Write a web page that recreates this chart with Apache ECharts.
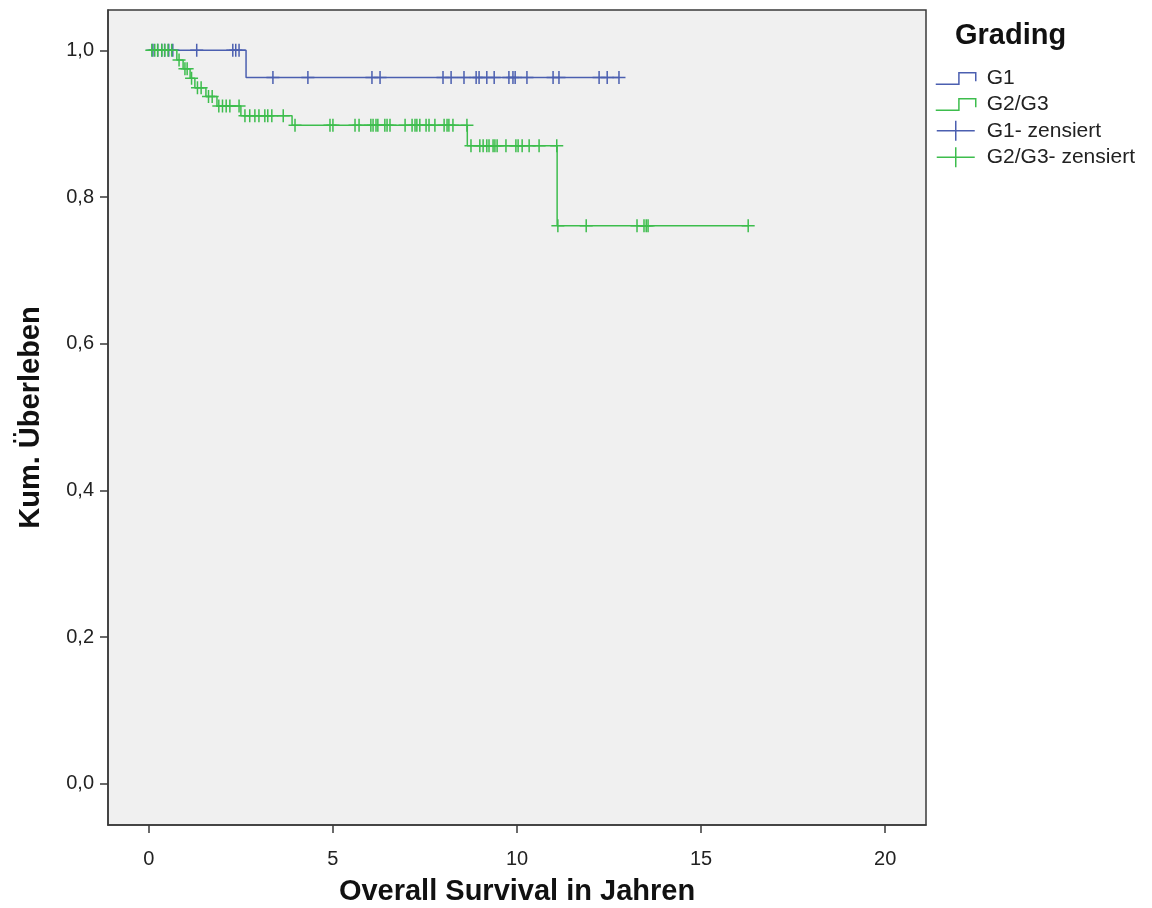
<!DOCTYPE html>
<html>
<head>
<meta charset="utf-8">
<title>Kaplan-Meier: Overall Survival nach Grading</title>
<script src="https://cdn.jsdelivr.net/npm/echarts@6/dist/echarts.min.js"></script>
<style>
  html, body { margin: 0; padding: 0; background: #ffffff; }
  #chart { width: 1152px; height: 908px; }
</style>
</head>
<body>
<div id="chart"></div>
<script>
// Kaplan-Meier step curves: time (years) at which each level starts, and the level
const g1Time = [0, 2.64, 12.77];
const g1Surv = [1.0, 0.963, 0.963];

const g23Time = [0, 0.76, 0.93, 1.12, 1.25, 1.55, 1.85, 2.50, 3.89, 8.65, 11.09, 16.28];
const g23Surv = [1.0, 0.987, 0.975, 0.962, 0.949, 0.937, 0.924, 0.911, 0.898, 0.870, 0.761, 0.761];

// Censoring times (years)
const g1Censored = [0.11, 0.24, 0.35, 0.43, 0.54, 0.65, 1.30, 2.28, 2.36, 2.45,
  3.37, 4.32, 6.06, 6.28, 7.99, 8.21, 8.56, 8.89, 8.97, 9.18, 9.38, 9.78, 9.89,
  9.95, 10.27, 10.98, 11.14, 12.23, 12.45, 12.77];

const g23Censored = [0.08, 0.16, 0.24, 0.35, 0.43, 0.52, 0.62,
  0.82, 0.98, 1.04, 1.16, 1.32, 1.42, 1.62, 1.72,
  1.90, 2.00, 2.10, 2.20, 2.45,
  2.61, 2.74, 2.88, 2.99, 3.15, 3.23, 3.34, 3.65,
  3.97, 4.92, 5.00, 5.60, 5.71, 6.03, 6.09, 6.17, 6.22, 6.41, 6.47, 6.55, 6.96,
  7.15, 7.23, 7.28, 7.36, 7.53, 7.61, 7.77, 8.02, 8.10, 8.15, 8.26, 8.64,
  8.75, 8.99, 9.08, 9.18, 9.24, 9.35, 9.40, 9.46, 9.70, 9.97, 10.03, 10.14,
  10.33, 10.60, 11.08,
  11.11, 11.88, 13.26, 13.45, 13.51, 13.56, 16.28];

// Axis ticks
const xTicks = [0, 5, 10, 15, 20];
const yTicks = [0, 0.2, 0.4, 0.6, 0.8, 1.0];

const groupNames = ['G1', 'G2/G3', 'G1- zensiert', 'G2/G3- zensiert'];
const BLUE = '#4b5fb0';
const GREEN = '#3dbd4d';
const FONT = '"Liberation Sans", Arial, sans-serif';

// survival level in effect at time t (right-continuous step function)
function levelAt(times, surv, t) {
  let s = surv[0];
  for (let i = 0; i < times.length; i++) {
    if (times[i] <= t) s = surv[i];
  }
  return s;
}

const stepData = (times, surv) => times.map((t, i) => [t, surv[i]]);
const censorData = (cens, times, surv) => cens.map(t => [t, levelAt(times, surv, t)]);

const crossSymbol = 'path://M0,6L12,6M6,0L6,12';
const stepIcon = 'path://M0,11L22,11L22,0L38,0L38,8';
const crossIcon = 'path://M0,10L38,10M19,0L19,20';

const chart = echarts.init(document.getElementById('chart'), null, { renderer: 'canvas' });

chart.setOption({
  animation: false,
  backgroundColor: '#ffffff',
  title: {
    text: 'Grading',
    left: 950,
    top: 16,
    textStyle: { fontFamily: FONT, fontSize: 29, fontWeight: 'bold', color: '#111' }
  },
  legend: {
    orient: 'vertical',
    left: 930,
    top: 63,
    itemWidth: 40,
    itemHeight: 20,
    itemGap: 5,
    textStyle: { fontFamily: FONT, fontSize: 21, lineHeight: 20, color: '#222', padding: [0, 0, 0, 6] },
    data: [
      { name: groupNames[0], icon: stepIcon,
        itemStyle: { color: 'transparent', borderColor: BLUE, borderWidth: 1.5 } },
      { name: groupNames[1], icon: stepIcon,
        itemStyle: { color: 'transparent', borderColor: GREEN, borderWidth: 1.5 } },
      { name: groupNames[2], icon: crossIcon,
        itemStyle: { color: 'transparent', borderColor: BLUE, borderWidth: 1.5 } },
      { name: groupNames[3], icon: crossIcon,
        itemStyle: { color: 'transparent', borderColor: GREEN, borderWidth: 1.5 } }
    ]
  },
  grid: {
    left: 108, right: 226, top: 10, bottom: 83,
    outerBoundsMode: 'none',
    show: true,
    backgroundColor: '#f0f0f0',
    borderColor: '#3a3a3a',
    borderWidth: 1.5
  },
  xAxis: {
    type: 'value',
    min: -1.11,
    max: 21.11,
    name: 'Overall Survival in Jahren',
    nameLocation: 'middle',
    nameGap: 52,
    nameTextStyle: { fontFamily: FONT, fontSize: 29, fontWeight: 'bold', color: '#111' },
    axisLine: { show: true, onZero: false, lineStyle: { color: '#3a3a3a', width: 1.5 } },
    axisTick: { show: true, customValues: xTicks, length: 8, lineStyle: { color: '#3a3a3a', width: 1.5 } },
    axisLabel: {
      customValues: xTicks,
      margin: 24,
      fontFamily: FONT, fontSize: 20, color: '#222'
    },
    splitLine: { show: false }
  },
  yAxis: {
    type: 'value',
    min: -0.056,
    max: 1.055,
    name: 'Kum. Überleben',
    nameLocation: 'middle',
    nameGap: 63,
    nameTextStyle: { fontFamily: FONT, fontSize: 29, fontWeight: 'bold', color: '#111' },
    axisLine: { show: true, onZero: false, lineStyle: { color: '#3a3a3a', width: 1.5 } },
    axisTick: { show: true, customValues: yTicks, length: 8, lineStyle: { color: '#3a3a3a', width: 1.5 } },
    axisLabel: {
      customValues: yTicks,
      margin: 14,
      fontFamily: FONT, fontSize: 20, color: '#222',
      formatter: v => v.toFixed(1).replace('.', ',')
    },
    splitLine: { show: false }
  },
  series: [
    {
      name: groupNames[0],
      type: 'line',
      step: 'end',
      showSymbol: false,
      symbol: 'none',
      data: stepData(g1Time, g1Surv),
      lineStyle: { color: BLUE, width: 1.5 },
      itemStyle: { color: BLUE },
      z: 2
    },
    {
      name: groupNames[1],
      type: 'line',
      step: 'end',
      showSymbol: false,
      symbol: 'none',
      data: stepData(g23Time, g23Surv),
      lineStyle: { color: GREEN, width: 1.5 },
      itemStyle: { color: GREEN },
      z: 3
    },
    {
      name: groupNames[2],
      type: 'scatter',
      symbol: crossSymbol,
      symbolSize: 13,
      data: censorData(g1Censored, g1Time, g1Surv),
      itemStyle: { color: 'transparent', borderColor: BLUE, borderWidth: 1.5, opacity: 1 },
      z: 4
    },
    {
      name: groupNames[3],
      type: 'scatter',
      symbol: crossSymbol,
      symbolSize: 13,
      data: censorData(g23Censored, g23Time, g23Surv),
      itemStyle: { color: 'transparent', borderColor: GREEN, borderWidth: 1.5, opacity: 1 },
      z: 5
    }
  ]
});
</script>
</body>
</html>
